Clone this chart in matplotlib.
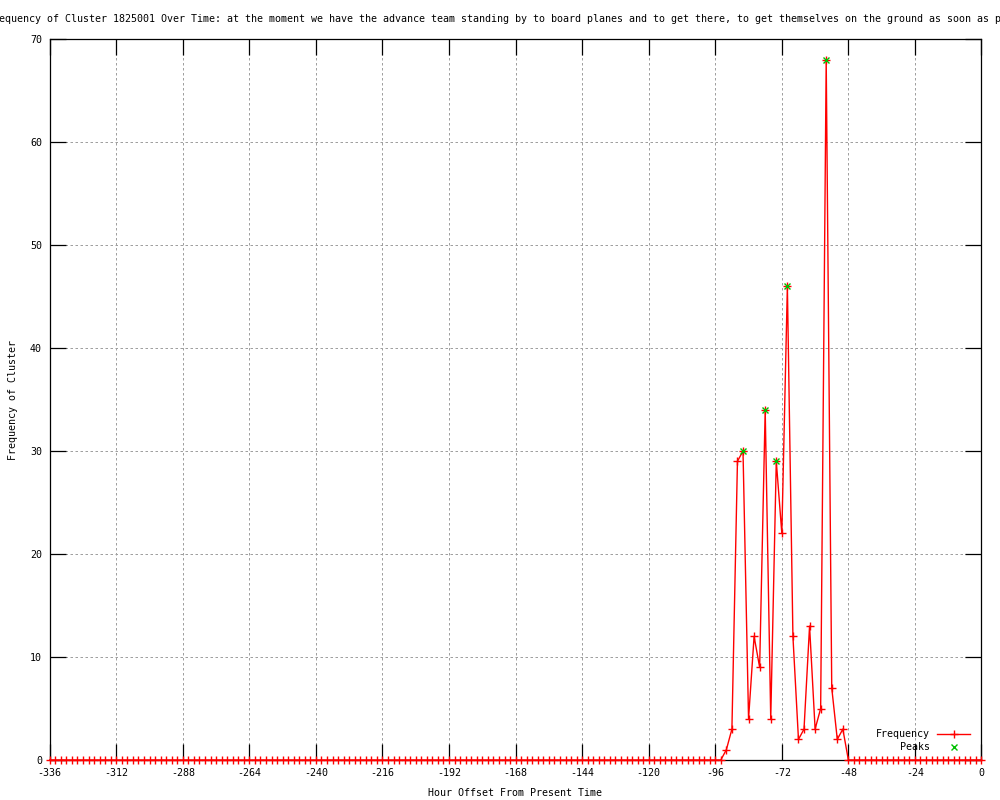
import matplotlib
matplotlib.use("Agg")
import matplotlib.pyplot as plt
from matplotlib.lines import Line2D

# ---- data ----
hours = list(range(-336, 1, 2))
frequency = [
    0, 0, 0, 0, 0, 0, 0, 0, 0, 0, 0, 0, 0, 0, 0, 0, 0, 0, 0, 0,
    0, 0, 0, 0, 0, 0, 0, 0, 0, 0, 0, 0, 0, 0, 0, 0, 0, 0, 0, 0,
    0, 0, 0, 0, 0, 0, 0, 0, 0, 0, 0, 0, 0, 0, 0, 0, 0, 0, 0, 0,
    0, 0, 0, 0, 0, 0, 0, 0, 0, 0, 0, 0, 0, 0, 0, 0, 0, 0, 0, 0,
    0, 0, 0, 0, 0, 0, 0, 0, 0, 0, 0, 0, 0, 0, 0, 0, 0, 0, 0, 0,
    0, 0, 0, 0, 0, 0, 0, 0, 0, 0, 0, 0, 0, 0, 0, 0, 0, 0, 0, 0,
    0,            # -96
    0, 1, 3, 29, 30, 4, 12, 9, 34, 4, 29, 22, 46, 12, 2, 3, 13, 3, 5, 68, 7, 2, 3,  # -94 .. -50
    0,            # -48
    0, 0, 0, 0, 0, 0, 0, 0, 0, 0, 0, 0, 0, 0, 0, 0, 0, 0, 0, 0, 0, 0, 0, 0,  # -46 .. 0
]
peak_hours = [-86, -78, -74, -70, -56]
peak_values = [30, 34, 29, 46, 68]

x_ticks = list(range(-336, 1, 24))
y_ticks = list(range(0, 71, 10))

title = ("Frequency of Cluster 1825001 Over Time: at the moment we have the advance team "
         "standing by to board planes and to get there, to get themselves on the ground as soon as possible")

# ---- style ----
plt.rcParams['font.family'] = ['DejaVu Sans Mono']
plt.rcParams['font.size'] = 7.2
plt.rcParams['axes.unicode_minus'] = False

fig = plt.figure(figsize=(10, 8), dpi=100)
ax = fig.add_axes([0.0497, 0.05, 0.9318, 0.90125])

ax.plot(hours, frequency, color='#ff0000', lw=1.0, marker='+', ms=5.5, mew=1.0,
        clip_on=False, zorder=3, label='Frequency')
ax.plot(peak_hours, peak_values, ls='none', color='#00c000', marker='x', ms=5, mew=1.0,
        clip_on=False, zorder=4, label='Peaks')

ax.set_xlim(-336, 0)
ax.set_ylim(0, 70)
ax.set_xticks(x_ticks)
ax.set_yticks(y_ticks)
ax.tick_params(direction='in', length=11.5, width=0.9, top=True, right=True,
               pad=6, colors='black', labelsize=7.2)
ax.tick_params(axis='y', pad=5.5)
ax.grid(True, color='#a0a0a0', lw=0.72, ls=(0, (2.5, 2.5)))
ax.set_axisbelow(True)
for s in ax.spines.values():
    s.set_linewidth(0.9)
    s.set_color('black')
    s.set_zorder(2)

fig.text(0.515, 1 - 19 / 800, title, ha='center', va='center', fontsize=7.2)
fig.text(13 / 1000, 1 - 400 / 800, 'Frequency of Cluster', rotation=90,
         ha='center', va='center', fontsize=7.2)
fig.text(0.515, 1 - 793 / 800, 'Hour Offset From Present Time', ha='center',
         va='center', fontsize=7.2)

handles = [
    Line2D([], [], color='#ff0000', lw=1.0, marker='+', ms=5.5, mew=1.0),
    Line2D([], [], ls='none', color='#00c000', marker='x', ms=5, mew=1.0),
]
fig.legend(handles, ['Frequency', '    Peaks'], loc='upper right',
           bbox_to_anchor=(970 / 1000, 1 - 729 / 800), frameon=False,
           markerfirst=False, borderpad=0, borderaxespad=0, handlelength=3.3,
           handletextpad=0.7, labelspacing=0.3, fontsize=7.2)

fig.savefig('out.png', dpi=100)
